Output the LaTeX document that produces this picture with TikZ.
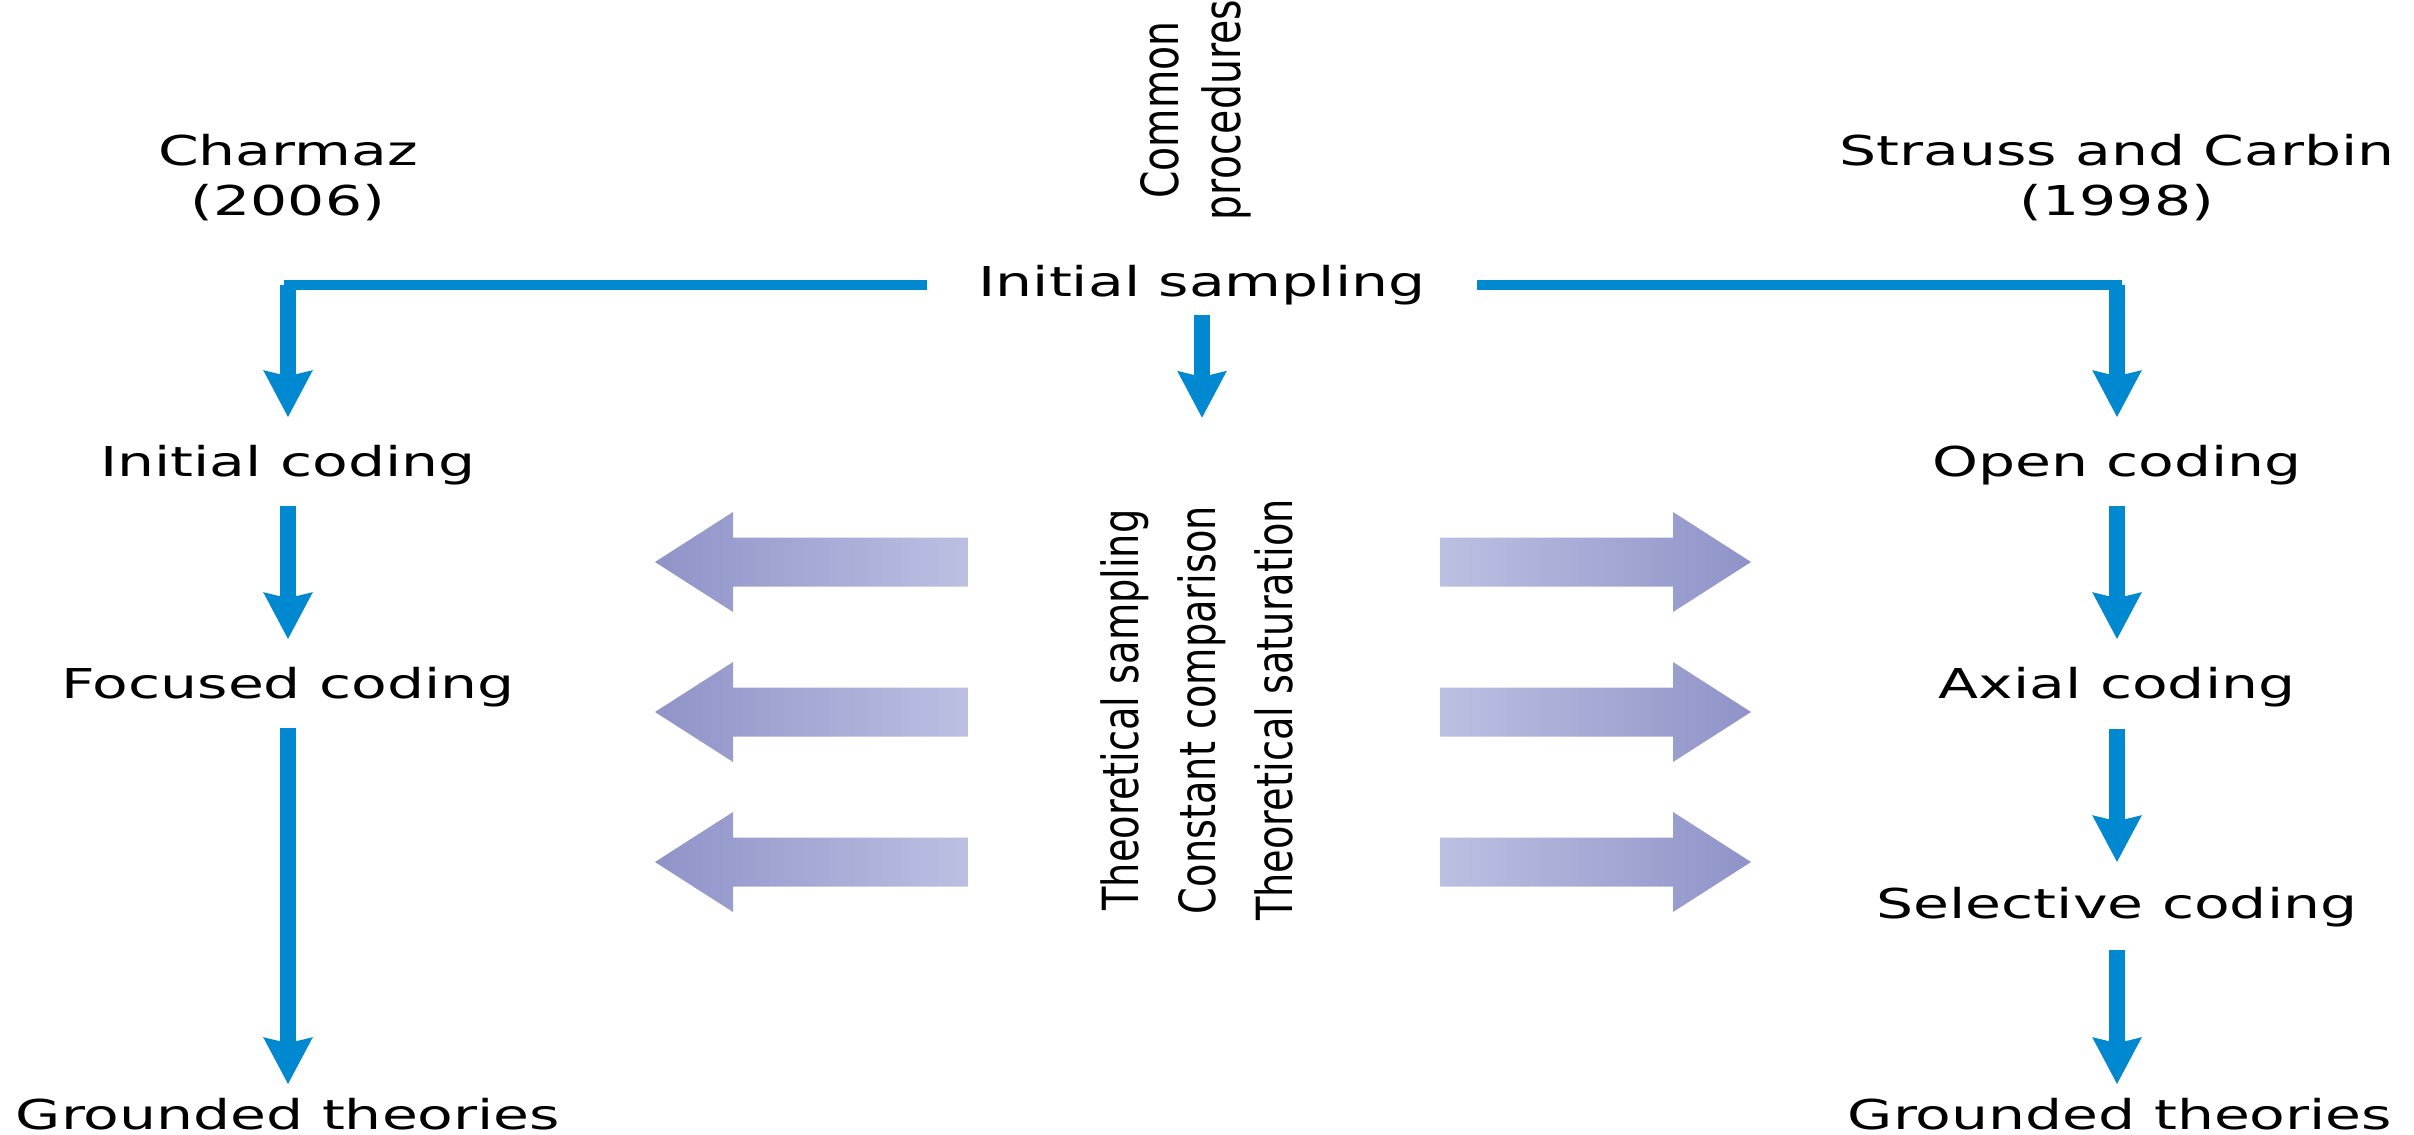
\documentclass[tikz,border=0pt]{standalone}
\usepackage{fontspec}
\usetikzlibrary{arrows.meta,calc}
\newfontfamily\labelfont[FakeStretch=1.42]{DejaVu Sans}
\newfontfamily\sidefont{DejaVu Sans}
\definecolor{flowblue}{RGB}{0,137,208}
\definecolor{fatdark}{RGB}{143,147,200}
\definecolor{fatlight}{RGB}{187,192,226}
\tikzset{
    stage/.style={font=\labelfont\fontsize{11.7}{14.2}\selectfont, inner sep=0pt, text height=0.31cm, text depth=0.08cm, anchor=base},
    head/.style={font=\labelfont\fontsize{11.7}{14.2}\selectfont, inner sep=0pt, align=center},
    side/.style={inner sep=0pt, align=center, rotate=90, yscale=1.3},
    rail/.style={flowblue, line width=0.1cm},
    flow/.style={flowblue, line width=0.16cm, -{Stealth[length=0.46cm, width=0.47cm, inset=0.05cm]}}
}

\begin{document}
\begin{tikzpicture}
    \useasboundingbox (0,0) rectangle (24.14,-11.35);
    \node [head] (charmaz) at (2.88,-1.78) {Charmaz\\(2006)};
    \node [head] (strauss) at (21.17,-1.78) {Strauss and Carbin\\(1998)};
    \node [side, font=\sidefont\fontsize{11.2}{13.6}\selectfont] (common) at (11.96,-1.10) {Common\\procedures};
    \node [stage] (is) at (12.02,-2.97) {Initial sampling};
    \node [stage] (ic) at (2.88,-4.76) {Initial coding};
    \node [stage] (fc) at (2.88,-6.98) {Focused coding};
    \node [stage] (gtl) at (2.88,-11.29) {Grounded theories};
    \node [stage] (oc) at (21.17,-4.76) {Open coding};
    \node [stage] (ac) at (21.17,-6.98) {Axial coding};
    \node [stage] (sc) at (21.17,-9.18) {Selective coding};
    \node [stage] (gtr) at (21.20,-11.29) {Grounded theories};
    \node [side, font=\sidefont\fontsize{10.9}{16.8}\selectfont] (theory) at (11.97,-7.10) {Theoretical sampling\\Constant comparison\\Theoretical saturation};
    \coordinate (s0) at (12.02,-4.18);

    \draw [rail, shorten <=0.51cm, shorten >=-0.04cm] (is.west) -- (is.west -| ic);
    \draw [rail, shorten <=0.51cm, shorten >=-0.05cm] (is.east) -- (is.east -| oc);
    \draw [flow, shorten >=0.27cm] (is.west -| ic) -- (ic);
    \draw [flow, shorten >=0.27cm] (is.east -| oc) -- (oc);
    \draw [flow, shorten <=0.09cm] (is) -- (s0);
    \draw [flow, shorten <=0.21cm, shorten >=0.27cm] (ic) -- (fc);
    \draw [flow, shorten <=0.21cm, shorten >=0.13cm] (fc) -- (gtl);
    \draw [flow, shorten <=0.21cm, shorten >=0.27cm] (oc) -- (ac);
    \draw [flow, shorten <=0.22cm, shorten >=0.24cm] (ac) -- (sc);
    \draw [flow, shorten <=0.23cm, shorten >=0.13cm] (sc) -- (sc |- gtr.north);

    \foreach \y in {5.62,7.12,8.62} {
        \shade [left color=fatdark, right color=fatlight] (6.55,-\y) -- ++(0.78,0.5) -- ++(0,-0.255) -- ++(2.35,0) -- ++(0,-0.49) -- ++(-2.35,0) -- ++(0,-0.255) -- cycle;
        \shade [left color=fatlight, right color=fatdark] (17.51,-\y) -- ++(-0.78,0.5) -- ++(0,-0.255) -- ++(-2.33,0) -- ++(0,-0.49) -- ++(2.33,0) -- ++(0,-0.255) -- cycle;
    }
\end{tikzpicture}
\end{document}
